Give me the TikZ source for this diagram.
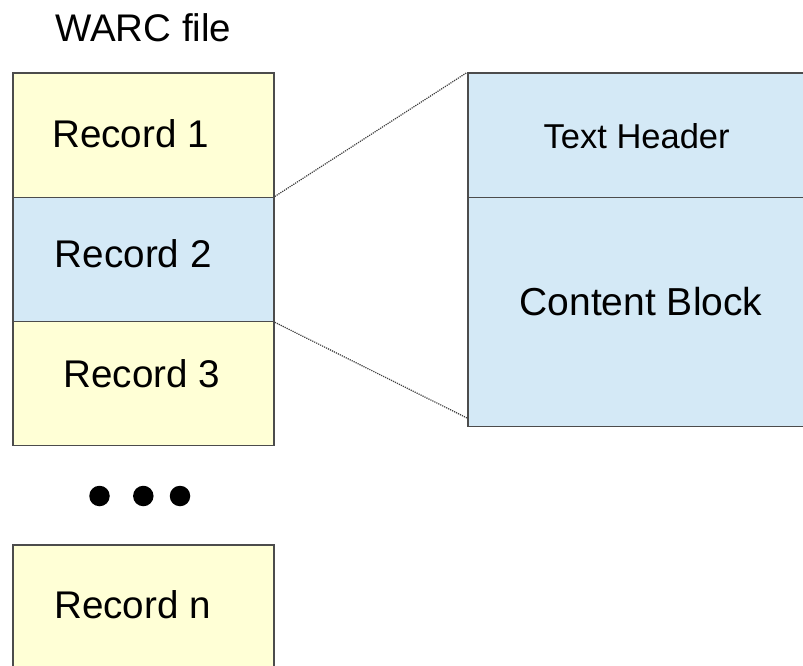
\documentclass[tikz,border=0pt]{standalone}
\usepackage{fontspec}
\setmainfont{Liberation Sans}
\begin{document}
\begin{tikzpicture}[x=1pt,y=-1pt,
  recbox/.style={draw=black!70, line width=1.8pt, inner sep=0pt, anchor=north west},
  yel/.style={fill=yellowfill},
  blu/.style={fill=bluefill},
  lbl/.style={anchor=base, inner sep=0pt, font=\fontsize{38.6}{40}\selectfont},
  sml/.style={anchor=base, inner sep=0pt, font=\fontsize{34.5}{36}\selectfont},
  zoomline/.style={draw=black!75, densely dotted, line width=1.2pt},
  dotmark/.style={circle, fill=black, inner sep=0pt, minimum size=20.5pt}]
\definecolor{yellowfill}{HTML}{FFFFD6}
\definecolor{bluefill}{HTML}{D4E9F6}
\clip (0,0) rectangle (803,666);
\fill[white] (0,0) rectangle (803,666);
% left column
\node[recbox, yel, minimum width=261pt, minimum height=124pt] (r1) at (12,72.5) {};
\node[recbox, blu, minimum width=261pt, minimum height=124pt] (r2) at (12,196.5) {};
\node[recbox, yel, minimum width=261pt, minimum height=124pt] (r3) at (12,320.5) {};
\node[recbox, yel, minimum width=261pt, minimum height=140pt] (rn) at (12,544) {};
% right box
\node[recbox, blu, minimum width=360pt, minimum height=124pt] (hdr) at (467,72.5) {};
\node[recbox, blu, minimum width=360pt, minimum height=229pt] (cb) at (467,196.5) {};
% texts
\node[lbl, font=\fontsize{38.5}{40}\selectfont] (title) at (143.3,41.5) {WARC file};
\node[lbl] (t1) at (130.5,147) {Record 1};
\node[lbl] (t2) at (133.3,267.3) {Record 2};
\node[lbl] (t3) at (141.7,387.3) {Record 3};
\node[lbl] (tn) at (132.5,618.3) {Record n};
\node[sml] (th) at (636.7,148.3) {Text Header};
\node[lbl, font=\fontsize{39}{40}\selectfont] (tc) at (641,315) {Content Block};
% ellipsis dots
\node[dotmark] (d1) at (99.5,496) {};
\node[dotmark] (d2) at (143.3,496) {};
\node[dotmark] (d3) at (180,496) {};
% zoom lines
\coordinate (cbend) at (467,418);
\draw[zoomline] (r2.north east) -- (hdr.north west);
\draw[zoomline] (r2.south east) -- (cbend);
\end{tikzpicture}
\end{document}
